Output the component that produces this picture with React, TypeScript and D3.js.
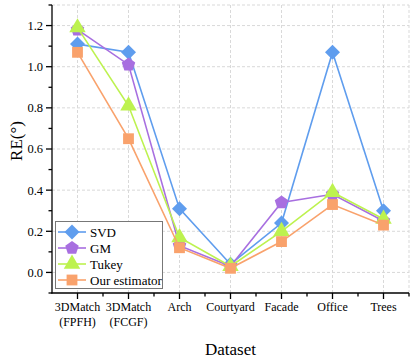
import React from "react";
import * as d3 from "d3";

const categories = ["3DMatch\n(FPFH)", "3DMatch\n(FCGF)", "Arch", "Courtyard", "Facade", "Office", "Trees"];
const svdValues = [1.11, 1.07, 0.31, 0.04, 0.24, 1.07, 0.30];
const gmValues = [1.18, 1.01, 0.13, 0.03, 0.34, 0.38, 0.25];
const tukeyValues = [1.19, 0.81, 0.17, 0.03, 0.20, 0.39, 0.26];
const oursValues = [1.07, 0.65, 0.12, 0.02, 0.15, 0.33, 0.23];
const seriesNames = ["SVD", "GM", "Tukey", "Our estimator"];
const yTicks = [0.0, 0.2, 0.4, 0.6, 0.8, 1.0, 1.2];

const colors = ["#5F9DEE", "#A86FE0", "#BDF24F", "#F9A26C"];
const shapes = ["diamond", "pentagon", "triangle", "square"];

const W = 415, H = 360;
const left = 52, right = 409, top = 5, bottom = 293;
const FONT = "'Liberation Serif', 'Times New Roman', serif";

function markerPath(shape: string, size: number): string {
  if (shape === "diamond") return d3.symbol(d3.symbolDiamond2, size * 1.1)() as string;
  if (shape === "square") return d3.symbol(d3.symbolSquare, size * 0.9)() as string;
  if (shape === "triangle") return d3.symbol(d3.symbolTriangle, size * 0.9)() as string;
  // pentagon
  const r = Math.sqrt(size) * 0.62;
  const pts = d3.range(5).map((i) => {
    const a = -Math.PI / 2 + (i * 2 * Math.PI) / 5;
    return [r * Math.cos(a), r * Math.sin(a)];
  });
  return "M" + pts.map((p) => p.join(",")).join("L") + "Z";
}

export default function App() {
  const x = d3.scalePoint<string>().domain(categories).range([left, right]).padding(0.5);
  const y = d3.scaleLinear().domain([-0.1, 1.3]).range([bottom, top]);
  const allSeries = [svdValues, gmValues, tukeyValues, oursValues];
  const line = d3
    .line<number>()
    .x((_, i) => x(categories[i]) as number)
    .y((d) => y(d));
  const minorY = d3.range(-0.1, 1.3001, 0.1).map((v) => +v.toFixed(2));
  const step = x.step();
  const minorX = categories.map((c) => (x(c) as number) + step / 2);
  const msize = 130;

  return (
    <svg width={W} height={H} style={{ position: "absolute", left: 0, top: 0, background: "#fff" }}>
      {/* grid */}
      <g stroke="#d9d9d9" strokeWidth={1} strokeDasharray="3,2" fill="none">
        {yTicks.map((t) => (
          <line key={"gy" + t} x1={left} x2={right} y1={y(t)} y2={y(t)} />
        ))}
        <line x1={left} x2={right} y1={y(1.3)} y2={y(1.3)} />
        {categories.map((c) => (
          <line key={"gx" + c} x1={x(c)} x2={x(c)} y1={top} y2={bottom} />
        ))}
        <line x1={right} x2={right} y1={top} y2={bottom} />
      </g>
      {/* axes */}
      <g stroke="#000" strokeWidth={1.3}>
        <line x1={left} x2={left} y1={top} y2={bottom + 0.6} />
        <line x1={left - 0.6} x2={right} y1={bottom} y2={bottom} />
        {minorY.map((t) => (
          <line key={"my" + t} x1={left - (yTicks.some((v) => Math.abs(v - t) < 1e-6) ? 6 : 3.5)} x2={left} y1={y(t)} y2={y(t)} />
        ))}
        {categories.map((c) => (
          <line key={"tx" + c} x1={x(c)} x2={x(c)} y1={bottom} y2={bottom + 6} />
        ))}
        {minorX.map((m, i) => (
          <line key={"mx" + i} x1={m} x2={m} y1={bottom} y2={bottom + 3.5} />
        ))}
      </g>
      {/* y tick labels */}
      <g fontFamily={FONT} fontSize={12.5} fill="#000" textAnchor="end">
        {yTicks.map((t) => (
          <text key={"yl" + t} x={left - 9} y={y(t)} dy="0.35em">
            {t.toFixed(1)}
          </text>
        ))}
      </g>
      {/* x tick labels */}
      <g fontFamily={FONT} fontSize={12} fill="#000" textAnchor="middle">
        {categories.map((c) => (
          <text key={"xl" + c} x={x(c)} y={bottom + 18}>
            {c.split("\n").map((ln, i) => (
              <tspan key={i} x={x(c)} dy={i === 0 ? 0 : 14.5}>
                {ln}
              </tspan>
            ))}
          </text>
        ))}
      </g>
      {/* axis titles */}
      <text x={(left + right) / 2} y={355} fontFamily={FONT} fontSize={17} textAnchor="middle">
        Dataset
      </text>
      <text transform={`translate(22,141) rotate(-90)`} fontFamily={FONT} fontSize={17} textAnchor="middle">
        RE(°)
      </text>
      {/* series */}
      {allSeries.map((vals, s) => (
        <g key={"s" + s}>
          <path d={line(vals) as string} fill="none" stroke={colors[s]} strokeWidth={1.6} />
          {vals.map((v, i) => (
            <path
              key={i}
              d={markerPath(shapes[s], msize)}
              transform={`translate(${x(categories[i])},${y(v)})`}
              fill={colors[s]}
            />
          ))}
        </g>
      ))}
      {/* legend */}
      <g>
        <rect x={55.5} y={221.5} width={107} height={67} fill="#fff" stroke="#777" strokeWidth={1} />
        {seriesNames.map((n, s) => {
          const ly = 232 + s * 16;
          return (
            <g key={"lg" + n}>
              <line x1={58} x2={86} y1={ly} y2={ly} stroke={colors[s]} strokeWidth={1.6} />
              <path d={markerPath(shapes[s], msize)} transform={`translate(72,${ly})`} fill={colors[s]} />
              <text x={90} y={ly} dy="0.35em" fontFamily={FONT} fontSize={13}>
                {n}
              </text>
            </g>
          );
        })}
      </g>
    </svg>
  );
}
